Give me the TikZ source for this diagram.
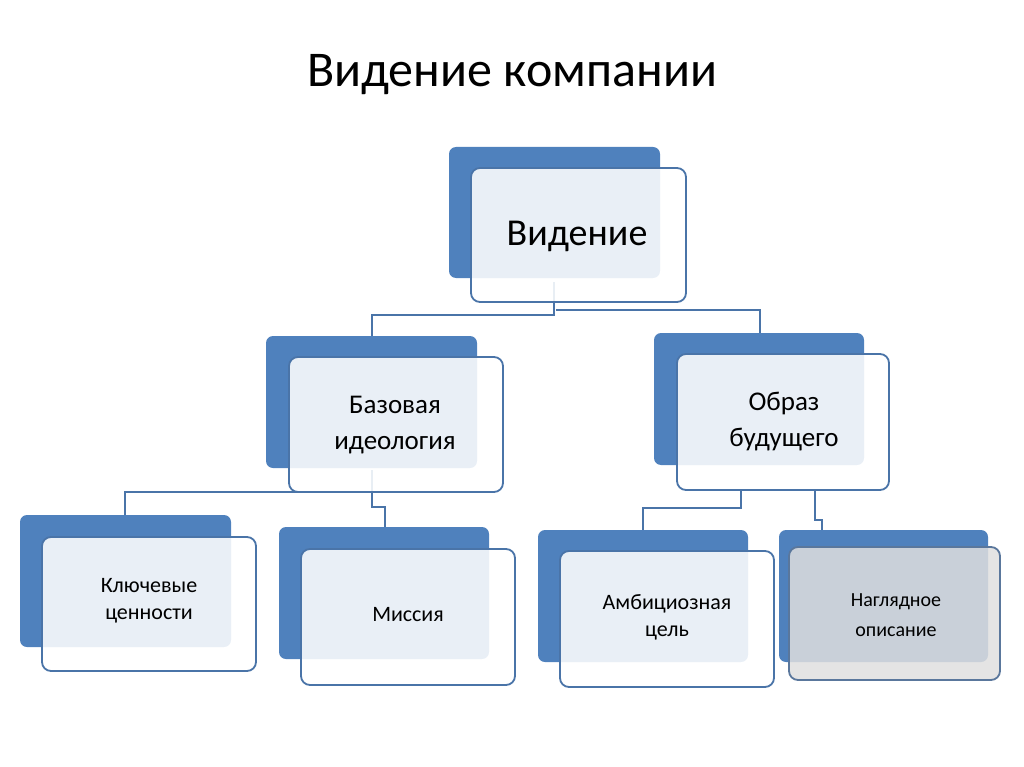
\documentclass[tikz,border=0pt]{standalone}
\usepackage{fontspec}
\setmainfont{Carlito}
\begin{document}
\begin{tikzpicture}[x=1pt,y=-1pt,
 back/.style={fill=bk,rounded corners=7pt},
 front/.style={draw=bd,line width=1.8pt,fill=white,fill opacity=0.88,rounded corners=9pt},
 lbl/.style={font=\fontsize{22}{27}\selectfont,align=center,text=black},
 conn/.style={draw=bd,line width=1.8pt}]
\definecolor{bk}{HTML}{4F81BD}
\definecolor{bd}{HTML}{4A74A8}
\useasboundingbox (0,0) rectangle (1024,767);
\node[font=\fontsize{50}{60}\selectfont] (title) at (512,75) {Видение компании};
% connectors
\draw[conn] (554,282) -- (554,315) -| (372,336);
\draw[conn] (556,310) -| (760,333);
\draw[conn] (372,470) -- (372,492) -| (125,515);
\draw[conn] (372,492) -- (372,507) -| (385,527);
\draw[conn] (741,490) -- (741,508) -| (643,530);
\draw[conn] (815,490) -- (815,520) -| (822,545);
% boxes
\newcommand{\cbox}[9]{%
 \fill[back] (#1,#2) rectangle (#3,#4);
 \draw[front] (#5,#6) rectangle (#7,#8);}
\cbox{449}{147}{660}{278}{471}{168}{686}{302}{}
\node[font=\fontsize{38}{44}\selectfont] (vid) at (577,236) {Видение};
\cbox{266}{336}{477}{468}{289}{357}{503}{492}{}
\node[lbl,font=\fontsize{27}{36}\selectfont] (baza) at (395,425) {Базовая\\идеология};
\cbox{654}{333}{864}{465}{677}{354}{889}{490}{}
\node[lbl,font=\fontsize{27}{36}\selectfont] (obraz) at (784,422) {Образ\\будущего};
\cbox{20}{515}{231}{647}{42}{537}{256}{671}{}
\node[lbl] (kl) at (149,601) {Ключевые\\ценности};
\cbox{279}{527}{489}{659}{301}{549}{515}{685}{}
\node[lbl] (mis) at (408,615) {Миссия};
\cbox{538}{530}{748}{662}{560}{551}{774}{687}{}
\node[lbl] (amb) at (667,617) {Амбициозная\\цель};
\fill[back] (779,530) rectangle (988,662);
\draw[draw=bd!70!gray,line width=1.8pt,fill=gray!25,fill opacity=0.85,rounded corners=9pt] (789,547) rectangle (1000,680);
\node[lbl,font=\fontsize{20}{30}\selectfont] (nag) at (896,615) {Наглядное\\описание};
\end{tikzpicture}
\end{document}
